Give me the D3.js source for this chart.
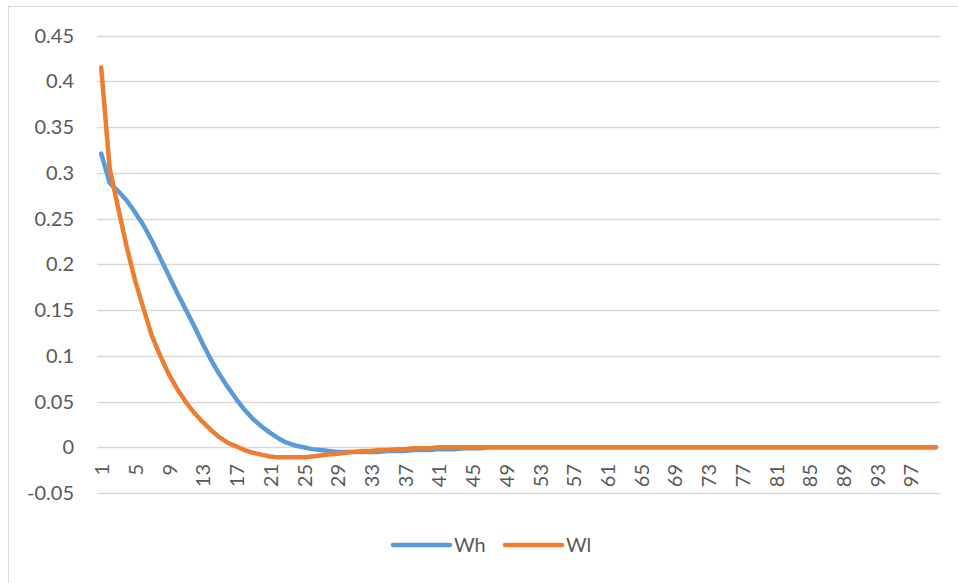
<!DOCTYPE html>
<html>
<head>
<meta charset="utf-8">
<script src="https://cdn.jsdelivr.net/npm/d3@7"></script>
<style>
  html, body { margin: 0; padding: 0; background: #fff; }
  svg { display: block; }
  text { font-family: Lato, "Liberation Sans", sans-serif; fill: #595959; }
</style>
</head>
<body>
<svg id="chart" width="958" height="583"></svg>
<script>
const categories = d3.range(1, 101);
const Wh = [0.321,0.289,0.280,0.270,0.257,0.243,0.226,0.207,0.188,0.169,
            0.151,0.133,0.114,0.096,0.080,0.066,0.053,0.041,0.031,0.023,
            0.016,0.010,0.005,0.002,0.000,-0.002,-0.003,-0.004,-0.005,-0.005,
            -0.005,-0.005,-0.005,-0.005,-0.004,-0.004,-0.004,-0.003,-0.003,-0.003,
            -0.002,-0.002,-0.002,-0.001,-0.001,-0.001,0,0,0,0,
            0,0,0,0,0,0,0,0,0,0, 0,0,0,0,0,0,0,0,0,0,
            0,0,0,0,0,0,0,0,0,0, 0,0,0,0,0,0,0,0,0,0,
            0,0,0,0,0,0,0,0,0,0];
const Wl = [0.415,0.305,0.262,0.220,0.183,0.152,0.122,0.100,0.080,0.064,
            0.050,0.038,0.028,0.019,0.011,0.005,0.001,-0.003,-0.006,-0.008,
            -0.010,-0.011,-0.011,-0.011,-0.011,-0.010,-0.009,-0.008,-0.007,-0.006,
            -0.005,-0.004,-0.004,-0.003,-0.003,-0.002,-0.002,-0.001,-0.001,-0.001,
            0,0,0,0,0,0,0,0,0,0, 0,0,0,0,0,0,0,0,0,0,
            0,0,0,0,0,0,0,0,0,0, 0,0,0,0,0,0,0,0,0,0,
            0,0,0,0,0,0,0,0,0,0, 0,0,0,0,0,0,0,0,0,0];
const yTicks = [-0.05, 0, 0.05, 0.1, 0.15, 0.2, 0.25, 0.3, 0.35, 0.4, 0.45];
const xTickLabels = categories.filter(c => (c - 1) % 4 === 0);
const seriesNames = ["Wh", "Wl"];
const seriesColors = ["#5B9BD5", "#ED7D31"];

const svg = d3.select("#chart");
const fmt = d3.formatLocale({decimal: ".", thousands: ",", grouping: [3], currency: ["", ""], minus: "-"}).format("");

// chart border
svg.append("rect").attr("x", 8.5).attr("y", 6.5).attr("width", 970).attr("height", 600)
  .attr("fill", "none").attr("stroke", "#D9D9D9").attr("stroke-width", 1);

const x = d3.scaleBand().domain(categories).range([97, 940]);
const y = d3.scaleLinear().domain([-0.05, 0.45]).range([493.05, 35.55]);

// gridlines
svg.append("g").selectAll("line").data(yTicks).join("line")
  .attr("x1", 97).attr("x2", 940)
  .attr("y1", d => Math.round(y(d)) + 0.5).attr("y2", d => Math.round(y(d)) + 0.5)
  .attr("stroke", "#D9D9D9").attr("stroke-width", 1.5);

// y labels
svg.append("g").selectAll("text").data(yTicks).join("text")
  .attr("x", 74).attr("y", d => y(d)).attr("dy", "0.35em")
  .attr("text-anchor", "end").attr("font-size", 20)
  .text(d => fmt(d));

// x labels
svg.append("g").selectAll("text").data(xTickLabels).join("text")
  .attr("transform", d => `translate(${x(d) + x.bandwidth() / 2 + 1},464) rotate(-90)`)
  .attr("dy", "0.35em").attr("text-anchor", "end").attr("font-size", 20)
  .text(d => d);

// lines
const line = d3.line().x((d, i) => x(categories[i]) + x.bandwidth() / 2).y(d => y(d));
[Wh, Wl].forEach((s, k) => {
  svg.append("path").datum(s).attr("d", line)
    .attr("fill", "none").attr("stroke", seriesColors[k]).attr("stroke-width", 4.5)
    .attr("stroke-linejoin", "round").attr("stroke-linecap", "round");
});

// legend
const legendX = [393, 505];
seriesNames.forEach((n, k) => {
  svg.append("line").attr("x1", legendX[k]).attr("x2", legendX[k] + 57)
    .attr("y1", 545).attr("y2", 545)
    .attr("stroke", seriesColors[k]).attr("stroke-width", 4.5).attr("stroke-linecap", "round");
  svg.append("text").attr("x", legendX[k] + 61).attr("y", 545).attr("dy", "0.35em")
    .attr("font-size", 20).text(n);
});
</script>
</body>
</html>
